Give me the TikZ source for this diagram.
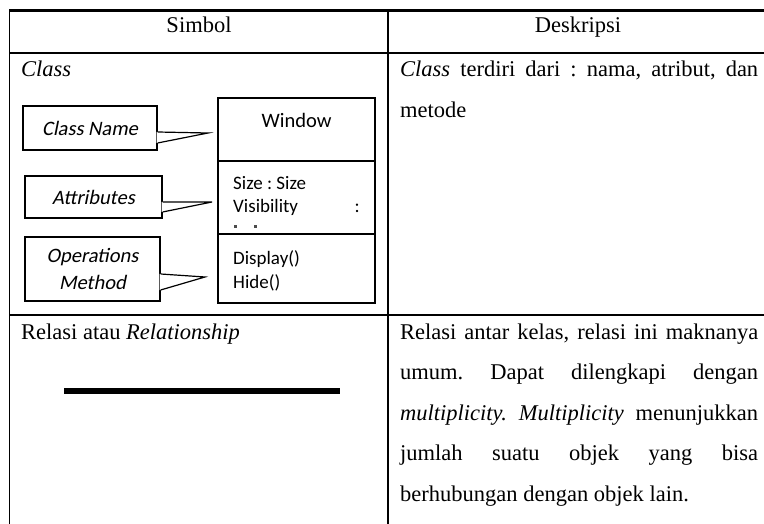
\documentclass[tikz,border=0pt]{standalone}
\usepackage{fontspec}
\setmainfont{Liberation Serif}
\newfontfamily\umlfont{Carlito}[AutoFakeSlant=0.2]
\usetikzlibrary{calc,positioning}
\frenchspacing

\begin{document}
\begin{tikzpicture}[x=1pt,y=-1pt,
    txt/.style={inner sep=0pt,anchor=base west,font=\fontsize{22.5}{27}\selectfont},
    umlbox/.style={draw,line width=1.2pt,minimum width=157pt,inner sep=0pt,outer sep=0pt},
    callbox/.style={draw,line width=1.2pt,inner sep=0pt,align=center,
      font=\fontsize{20.5}{27}\umlfont\itshape},
    member/.style={inner sep=0pt,anchor=base west,font=\umlfont\fontsize{19}{24}\selectfont}]
    \useasboundingbox (0,0) rectangle (764,524);

    % table rules
    \draw[line width=3pt] (9,11) -- (764,11);
    \draw[line width=1.2pt] (9.5,9.5) -- (9.5,524);
    \draw[line width=1.2pt] (9,53) -- (764,53);
    \draw[line width=1.2pt] (9,315) -- (764,315);
    \draw[line width=1.2pt] (388,11) -- (388,524);

    % header
    \node[txt,anchor=base] (HeadSimbol) at (199,33) {Simbol};
    \node[txt,anchor=base] (HeadDesc) at (578,33) {Deskripsi};

    % row 1: class
    \node[txt] (ClassLbl) at (21,77) {\textit{Class}};
    \node[txt] (ClassDescA) at (400,77) {\makebox[358pt][s]{\textit{Class} terdiri dari : nama, atribut, dan}};
    \node[txt] (ClassDescB) at (400,118) {metode};

    % the class box
    \node[umlbox,minimum height=63pt] (Title) at (296.5,129.5) {};
    \node[umlbox,minimum height=73pt,below=0pt of Title] (Attrs) {};
    \node[umlbox,minimum height=69pt,below=0pt of Attrs] (Ops) {};
    \node[member,anchor=base,font=\umlfont\fontsize{20.5}{24}\selectfont] (WinName) at (296.5,128) {Window};
    \node[member] (AttrA) at (233,190) {Size : Size};
    \node[member] (AttrB) at (233,213) {Visibility};
    \node[member,anchor=base east] (AttrC) at (360,213) {:};
    \fill[black!70] (234,225) rectangle (236.5,228.5);
    \fill[black!70] (254,225) rectangle (256.5,228.5);
    \node[member] (OpA) at (233,265) {Display()};
    \node[member] (OpB) at (233,288) {Hide()};

    % callouts
    \node[callbox,minimum width=134pt,minimum height=44pt] (CnName) at (90,128) {Class Name};
    \node[callbox,minimum width=137pt,minimum height=42pt] (CnAttr) at (93.5,197) {Attributes};
    \node[callbox,minimum width=135pt,minimum height=64pt] (CnOps) at (92.5,269) {Operations\\Method};
    \coordinate (TipA) at ($(Title.west)+(-10,3.5)$);
    \coordinate (TipB) at ($(Attrs.west)+(-6,4.5)$);
    \coordinate (TipC) at ($(Ops.west)+(-13,8.5)$);
    \foreach \cn/\tip/\up/\lo in {CnName/TipA/4/15,CnAttr/TipB/5/15,CnOps/TipC/5/21}{%
      \fill[white] ($(\cn.east)+(-1,\up)$) -- ($(\cn.east)+(0,\up)$) -- (\tip)
        -- ($(\cn.east)+(0,\lo)$) -- ($(\cn.east)+(-1,\lo)$) -- cycle;
      \draw[line width=1.2pt,line join=miter] ($(\cn.east)+(0,\up)$) -- (\tip) -- ($(\cn.east)+(0,\lo)$);
    }

    % row 2: relationship
    \node[txt] (RelLbl) at (21,339) {Relasi atau \textit{Relationship}};
    \coordinate (RelStart) at (64,390.5);
    \coordinate (RelEnd) at (340,390.5);
    \draw[line width=6pt] (RelStart) -- (RelEnd);
    \node[txt] (RelDescA) at (400,339) {\makebox[358pt][s]{Relasi antar kelas, relasi ini maknanya}};
    \node[txt] (RelDescB) at (400,379.5) {\makebox[358pt][s]{umum. Dapat dilengkapi dengan}};
    \node[txt] (RelDescC) at (400,420) {\makebox[358pt][s]{\textit{multiplicity. Multiplicity} menunjukkan}};
    \node[txt] (RelDescD) at (400,460.5) {\makebox[358pt][s]{jumlah suatu objek yang bisa}};
    \node[txt] (RelDescE) at (400,501) {berhubungan dengan objek lain.};
\end{tikzpicture}
\end{document}
